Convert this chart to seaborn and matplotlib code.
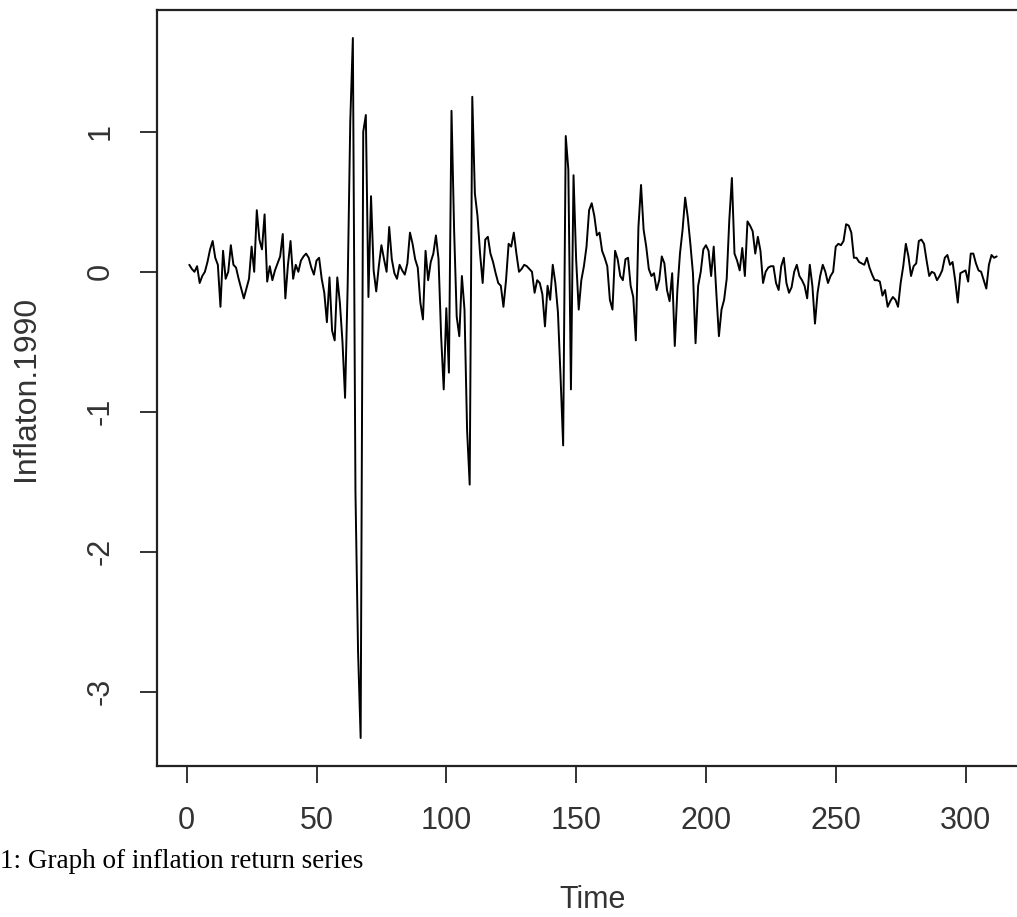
import numpy as np
import pandas as pd
import matplotlib
matplotlib.use("Agg")
import matplotlib.pyplot as plt
import seaborn as sns

# ---- data ----
inflation_1990 = [
    0.05, 0.02, 0.0, 0.04, -0.08, -0.03, 0.0, 0.07, 0.16, 0.22,
    0.1, 0.05, -0.25, 0.15, -0.05, 0.0, 0.19, 0.05, 0.03, -0.05,
    -0.12, -0.19, -0.12, -0.05, 0.18, 0.0, 0.44, 0.23, 0.16, 0.41,
    -0.07, 0.04, -0.06, 0.01, 0.06, 0.11, 0.27, -0.19, 0.05, 0.22,
    -0.05, 0.05, 0.0, 0.08, 0.11, 0.13, 0.1, 0.03, -0.02, 0.08,
    0.1, -0.05, -0.15, -0.36, -0.04, -0.42, -0.49, -0.04, -0.22, -0.5,
    -0.9, -0.1, 1.07, 1.67, -1.57, -2.71, -3.33, 1.0, 1.12, -0.18,
    0.54, 0.01, -0.14, 0.04, 0.19, 0.09, 0.0, 0.32, 0.09, -0.01,
    -0.05, 0.05, 0.01, -0.02, 0.06, 0.28, 0.2, 0.09, 0.03, -0.22,
    -0.34, 0.15, -0.06, 0.07, 0.13, 0.26, 0.09, -0.46, -0.84, -0.26,
    -0.72, 1.15, 0.3, -0.32, -0.46, -0.03, -0.27, -1.13, -1.52, 1.25,
    0.56, 0.4, 0.13, -0.08, 0.23, 0.25, 0.13, 0.07, -0.01, -0.08,
    -0.1, -0.25, -0.06, 0.2, 0.18, 0.28, 0.13, 0.0, 0.02, 0.05,
    0.04, 0.02, 0.0, -0.15, -0.06, -0.08, -0.16, -0.39, -0.1, -0.2,
    0.05, -0.08, -0.29, -0.75, -1.24, 0.97, 0.73, -0.84, 0.69, 0.09,
    -0.27, -0.06, 0.04, 0.18, 0.44, 0.49, 0.4, 0.26, 0.28, 0.15,
    0.1, 0.04, -0.2, -0.27, 0.15, 0.09, -0.03, -0.06, 0.09, 0.1,
    -0.1, -0.18, -0.49, 0.32, 0.62, 0.3, 0.18, 0.02, -0.03, -0.01,
    -0.13, -0.06, 0.11, 0.06, -0.13, -0.21, -0.01, -0.53, -0.13, 0.13,
    0.3, 0.53, 0.39, 0.2, -0.01, -0.51, -0.1, 0.0, 0.16, 0.19,
    0.15, -0.03, 0.18, -0.15, -0.46, -0.27, -0.2, -0.05, 0.37, 0.67,
    0.13, 0.08, 0.01, 0.17, -0.03, 0.36, 0.33, 0.29, 0.13, 0.25,
    0.15, -0.08, 0.0, 0.03, 0.04, 0.04, -0.08, -0.13, 0.04, 0.1,
    -0.08, -0.15, -0.11, 0.0, 0.05, -0.03, -0.06, -0.1, -0.19, 0.05,
    -0.1, -0.37, -0.15, -0.03, 0.05, 0.0, -0.08, -0.03, 0.0, 0.18,
    0.2, 0.19, 0.22, 0.34, 0.33, 0.28, 0.1, 0.1, 0.07, 0.06,
    0.05, 0.1, 0.03, -0.02, -0.06, -0.06, -0.07, -0.17, -0.13, -0.25,
    -0.21, -0.18, -0.2, -0.25, -0.08, 0.04, 0.2, 0.11, -0.03, 0.04,
    0.06, 0.22, 0.23, 0.2, 0.08, -0.03, 0.0, -0.01, -0.06, -0.03,
    0.01, 0.1, 0.12, 0.05, 0.07, -0.06, -0.22, -0.01, 0.0, 0.01,
    -0.07, 0.13, 0.13, 0.06, 0.01, 0.0, -0.06, -0.12, 0.05, 0.12,
    0.1, 0.11,
]
time_index = list(range(1, len(inflation_1990) + 1))
x_ticks = [0, 50, 100, 150, 200, 250, 300]
y_ticks = [-3, -2, -1, 0, 1]
x_label = "Time"
y_label = "Inflaton.1990"
caption = "1: Graph of inflation return series"

df = pd.DataFrame({"Time": time_index, "Inflaton.1990": inflation_1990})

sns.set_theme(style="ticks")
plt.rcParams["font.family"] = ["Liberation Sans", "DejaVu Sans"]

W, H = 1017, 917
fig = plt.figure(figsize=(W / 100, H / 100), dpi=100)
ax_left, ax_right, ax_top, ax_bottom = 157, 1029, 10, 766
ax = fig.add_axes([ax_left / W, 1 - ax_bottom / H,
                   (ax_right - ax_left) / W, (ax_bottom - ax_top) / H])

sns.lineplot(data=df, x="Time", y="Inflaton.1990", ax=ax,
             color="black", linewidth=1.4, estimator=None)

n = len(inflation_1990)
xr = (n - 1) * 0.04
ax.set_xlim(1 - xr, n + xr)
ymin, ymax = min(inflation_1990), max(inflation_1990)
yr = (ymax - ymin) * 0.04
ax.set_ylim(ymin - yr, ymax + yr)

ax.set_xticks(x_ticks)
ax.set_xticklabels([str(v) for v in x_ticks])
ax.set_yticks(y_ticks)
ax.set_yticklabels([str(v) for v in y_ticks], rotation=90, va="center")

ax.tick_params(axis="both", direction="out", length=12, width=1.3,
               color="#222222", labelsize=22, labelcolor="#333333")
ax.tick_params(axis="x", pad=17)
ax.tick_params(axis="y", pad=18)

for s in ax.spines.values():
    s.set_visible(True)
    s.set_linewidth(1.6)
    s.set_color("#222222")

ax.set_xlabel(x_label, fontsize=22, color="#333333", va="center")
ax.xaxis.set_label_coords(0.5, -(900 - ax_bottom) / (ax_bottom - ax_top))
ax.set_ylabel(y_label, fontsize=23, color="#333333", va="center")
ax.yaxis.set_label_coords(-(ax_left - 26) / (ax_right - ax_left), 0.5)

fig.text(0.0, 1 - 862 / H, caption, family=["Liberation Serif", "DejaVu Serif"],
         fontsize=19.5, color="black", ha="left", va="center")

fig.savefig("out.png", dpi=100)
